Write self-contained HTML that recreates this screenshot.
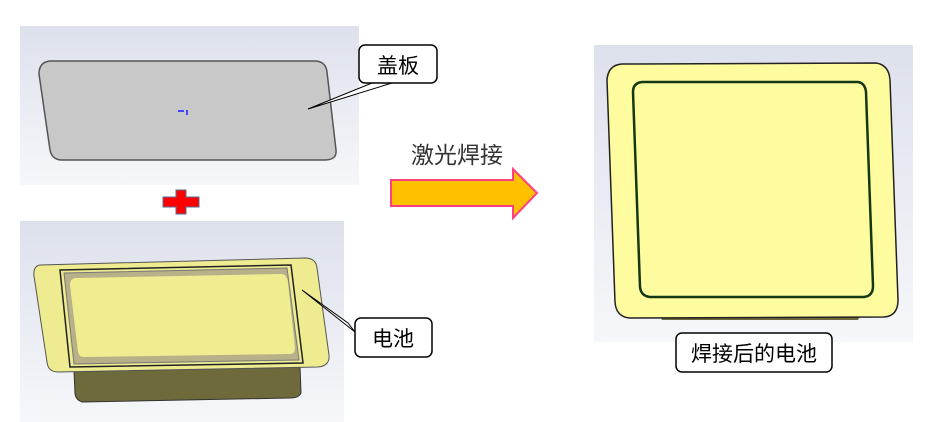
<!DOCTYPE html>
<html><head><meta charset="utf-8"><style>
html,body{margin:0;padding:0;background:#fff;width:935px;height:422px;overflow:hidden}
svg text{font-family:"Liberation Sans","Noto Sans CJK SC",sans-serif}
</style></head><body>
<svg width="935" height="422" viewBox="0 0 935 422" xmlns="http://www.w3.org/2000/svg">
<defs>
<linearGradient id="bg" x1="0" y1="0" x2="0" y2="1">
<stop offset="0" stop-color="#dde1ec"/><stop offset="1" stop-color="#f6f7fa"/></linearGradient>
</defs>
<rect x="20" y="26" width="339" height="159" fill="url(#bg)"/>
<path d="M50,61 L316,61 Q326,62 327,72 L336,150 Q337,160 325,160 L62,160 Q52,160 50,150 L39,74 Q39,62 50,61 Z" fill="#c8c8c8" stroke="#555" stroke-width="1.5"/>
<rect x="178" y="110" width="6" height="2" fill="#4444ff"/><rect x="186" y="110" width="2" height="5" fill="#4444ff"/>
<path d="M308,109 L372,83 L392,83 Z" fill="#fff" stroke="#000" stroke-width="1"/>
<rect x="359" y="45" width="78" height="38" rx="6" fill="#fff" stroke="#000" stroke-width="1.5"/>
<text x="398" y="73" font-size="21" text-anchor="middle" fill="#000">盖板</text>
<rect x="163" y="197" width="36" height="10" fill="#ff0000" stroke="#5a6a90" stroke-width="1"/>
<rect x="176" y="190" width="10" height="24" fill="#ff0000" stroke="#5a6a90" stroke-width="1"/>
<rect x="164" y="198" width="34" height="8" fill="#ff0000"/>
<rect x="20" y="221" width="324" height="201" fill="url(#bg)"/>
<path d="M74,370 L300,366 L301,393 Q299,398 290,398 L82,402 Q76,400 75,394 Z" fill="#6e6a3c" stroke="#333" stroke-width="1"/>
<path d="M40,265 L305,258 Q316,258 317,268 L329,355 Q330,366 318,367 L58,372 Q48,372 47,362 L34,276 Q33,266 40,265 Z" fill="#eeeb90" stroke="#555" stroke-width="1"/>
<path d="M60,270 L291,265 L303,363 L70,367 Z" fill="#eeeb90" stroke="#222" stroke-width="1.5"/>
<path d="M64,273 L287,268 L299,360 L74,364 Z" fill="#b8b088" stroke="#777" stroke-width="1"/>
<path d="M75,278 L282,274 Q287,275 288,282 L295,348 Q295,354 290,354 L84,357 Q79,357 78,352 L70,285 Q70,279 75,278 Z" fill="#efed90"/>
<path d="M302,290 L348,323 L355,332 Z" fill="#fff" stroke="#000" stroke-width="1"/>
<rect x="355" y="318" width="77" height="39" rx="6" fill="#fff" stroke="#000" stroke-width="1.5"/>
<text x="393" y="346" font-size="21" text-anchor="middle" fill="#000">电池</text>
<text x="457" y="163" font-size="23" text-anchor="middle" fill="#333">激光焊接</text>
<path d="M391,180 L513,180 L513,169 L537,193 L513,218 L513,206 L391,206 Z" fill="#ffc000" stroke="#ff4080" stroke-width="2"/>
<rect x="594" y="45" width="319" height="297" fill="url(#bg)"/>
<path d="M660,316 L860,316 L858,320 L662,320 Z" fill="#6e6a3c"/>
<path d="M622,64 L876,63 Q889,65 890,80 L898,300 Q898,316 884,317 L630,318 Q616,317 615,302 L607,80 Q608,65 622,64 Z" fill="#fffca0" stroke="#222" stroke-width="1.5"/>
<path d="M642,82 L858,82 Q865,83 866,92 L873,286 Q873,296 864,297 L650,297 Q641,296 640,287 L633,92 Q633,83 642,82 Z" fill="#fffca0" stroke="#143814" stroke-width="2.5"/>
<rect x="676" y="333" width="156" height="39" rx="6" fill="#fff" stroke="#000" stroke-width="1.5"/>
<text x="754" y="361" font-size="21" text-anchor="middle" fill="#000">焊接后的电池</text>
</svg>
</body></html>
